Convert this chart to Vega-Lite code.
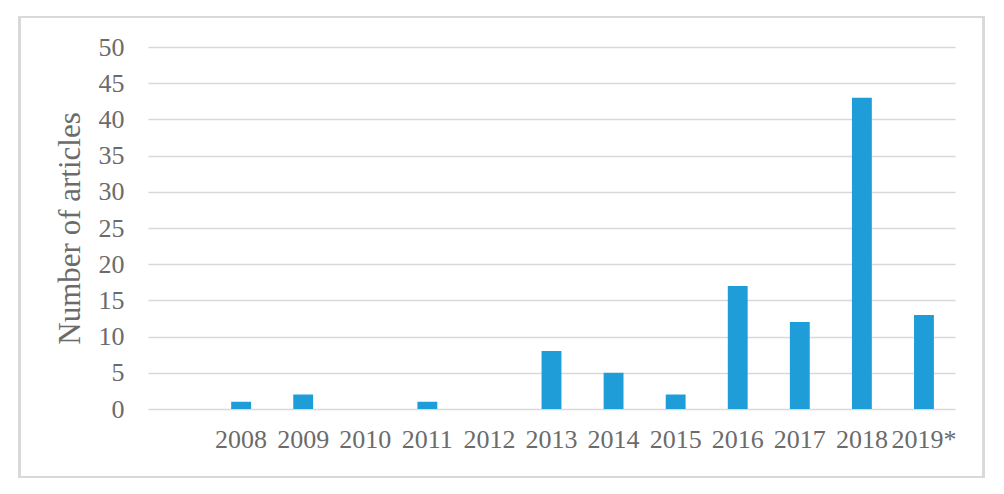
{
  "$schema": "https://vega.github.io/schema/vega-lite/v6.json",
  "width": 807,
  "height": 362,
  "autosize": {"type": "none"},
  "padding": {"left": 148, "top": 47, "right": 49, "bottom": 85},
  "background": "white",
  "data": {"values": [
    {"year": "2008", "articles": 1},
    {"year": "2009", "articles": 2},
    {"year": "2010", "articles": 0},
    {"year": "2011", "articles": 1},
    {"year": "2012", "articles": 0},
    {"year": "2013", "articles": 8},
    {"year": "2014", "articles": 5},
    {"year": "2015", "articles": 2},
    {"year": "2016", "articles": 17},
    {"year": "2017", "articles": 12},
    {"year": "2018", "articles": 43},
    {"year": "2019*", "articles": 13}
  ]},
  "encoding": {
    "x": {
      "field": "year", "type": "ordinal", "sort": null,
      "scale": {"domain": [" ", "2008", "2009", "2010", "2011", "2012", "2013", "2014", "2015", "2016", "2017", "2018", "2019*"], "paddingInner": 0.68, "paddingOuter": 0.34},
      "axis": {"title": null, "labelAngle": 0, "domain": false, "ticks": false, "labelPadding": 17, "labelFontSize": 26, "labelFont": "Liberation Serif", "labelColor": "#6B6B6B", "grid": false}
    },
    "y": {
      "field": "articles", "type": "quantitative",
      "scale": {"domain": [0, 50]},
      "axis": {"title": "Number of articles", "values": [0,5,10,15,20,25,30,35,40,45,50], "domain": false, "ticks": false, "labelPadding": 24, "labelFontSize": 26, "labelFont": "Liberation Serif", "labelColor": "#6B6B6B", "labelFontWeight": "normal", "titleFont": "Liberation Serif", "titleFontSize": 31, "titleFontWeight": "normal", "titleColor": "#6B6B6B", "titlePadding": 12, "gridColor": "#D9D9D9", "gridWidth": 1.5}
    }
  },
  "layer": [
    {
      "mark": {"type": "rect", "fill": null, "stroke": "#D9D9D9", "strokeWidth": 2},
      "encoding": {
        "x": {"datum": " ", "type": "ordinal", "bandPosition": -7.54},
        "x2": {"datum": "2019*", "bandPosition": 3.51},
        "y": {"datum": 54.14, "type": "quantitative"},
        "y2": {"datum": -9.39}
      }
    },
    {"mark": {"type": "bar", "color": "#1E9DD8"}}
  ],
  "config": {"view": {"stroke": null}}
}
